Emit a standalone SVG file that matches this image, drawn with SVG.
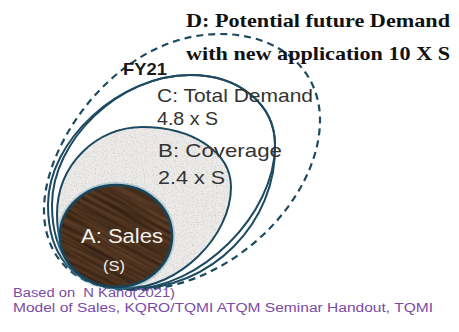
<svg xmlns="http://www.w3.org/2000/svg" width="459" height="332" viewBox="0 0 459 332">
  <style>
    .ring { fill: none; stroke: #1d4a60; stroke-width: 2; }
    .dash { fill: none; stroke: #1d4a60; stroke-width: 2.2; stroke-dasharray: 7 5; }
    .head { font-family: "Liberation Serif", "Times New Roman", serif; font-weight: bold; font-size: 19px; fill: #111; }
    .lbl { font-family: "Liberation Sans", Arial, sans-serif; font-size: 19px; fill: #333; }
    .fy { font-family: "Liberation Sans", Arial, sans-serif; font-weight: bold; font-size: 17px; fill: #1a1a1a; }
    .inner { font-family: "Liberation Sans", Arial, sans-serif; fill: #f3efe9; }
    .note { font-family: "Liberation Sans", Arial, sans-serif; font-size: 12px; fill: #7b4aa6; }
  </style>
  <defs>
    <!-- light grey granite texture for the coverage area -->
    <filter id="speckle" x="0" y="0" width="1" height="1" color-interpolation-filters="sRGB">
      <feTurbulence type="fractalNoise" baseFrequency="0.9" numOctaves="2" seed="4" result="n"/>
      <feColorMatrix in="n" type="matrix" values="0 0 0 0 0.76  0 0 0 0 0.76  0 0 0 0 0.75  2.0 0 0 0 -0.98" result="dots"/>
      <feComposite in="dots" in2="SourceGraphic" operator="atop"/>
    </filter>
    <!-- dark wood grain for the sales disc -->
    <filter id="wood" x="0" y="0" width="1" height="1" color-interpolation-filters="sRGB">
      <feTurbulence type="fractalNoise" baseFrequency="0.012 0.3" numOctaves="3" seed="7" result="g"/>
      <feColorMatrix in="g" type="matrix" values="0.3 0 0 0 0.14  0.22 0 0 0 0.08  0.15 0 0 0 0.04  0 0 0 0 1"/>
    </filter>
    <clipPath id="clipA">
      <ellipse cx="116" cy="236" rx="56" ry="51"/>
    </clipPath>
  </defs>

  <rect width="459" height="332" fill="#ffffff"/>

  <!-- D: potential future demand (dashed) -->
  <g id="node-D">
    <path class="dash" d="M134,290 C72,290 44,255 44,210 C44,140 120,34 220,34 C280,34 320,70 320,120 C320,200 230,290 134,290 Z"/>
  </g>

  <!-- FY21 outline -->
  <g id="node-FY21">
    <path class="ring" d="M130,289 C70,289 48,252 48,205 C48,140 120,75 190,75 C240,75 275,105 275,145 C277,222 212,290 130,289 Z"/>
  </g>

  <!-- C: total demand -->
  <g id="node-C">
    <path class="ring" d="M130,289 C74,289 52,252 52,205 C52,140 120,75 190,75 C240,75 275,105 275,145 C275,215 200,289 130,289 Z"/>
  </g>

  <!-- B: coverage -->
  <g id="node-B">
    <path d="M128,288 C80,288 57,255 57,215 C57,163 98,127 142,127 C192,127 231,152 231,187 C231,237 178,288 128,288 Z" fill="#ecebe9" filter="url(#speckle)"/>
    <path class="ring" d="M128,288 C80,288 57,255 57,215 C57,163 98,127 142,127 C192,127 231,152 231,187 C231,237 178,288 128,288 Z"/>
  </g>

  <!-- A: sales -->
  <g id="node-A">
    <g clip-path="url(#clipA)">
      <rect x="20" y="150" width="200" height="180" transform="rotate(28 116 236)" filter="url(#wood)"/>
    </g>
    <ellipse cx="116" cy="236" rx="57" ry="52" fill="none" stroke="#5a9ab8" stroke-width="4" opacity="0.35"/>
    <ellipse cx="116" cy="236" rx="56" ry="51" fill="none" stroke="#1b4358" stroke-width="2.6"/>
    <text class="inner" x="81" y="243" font-size="19.5" textLength="82" lengthAdjust="spacingAndGlyphs">A: Sales</text>
    <text class="inner" x="103" y="271" font-size="14" textLength="22" lengthAdjust="spacingAndGlyphs">(S)</text>
  </g>

  <!-- labels -->
  <g id="labels">
    <text class="head" x="186" y="27" textLength="264" lengthAdjust="spacingAndGlyphs">D: Potential future Demand</text>
    <text class="head" x="186" y="60" textLength="264" lengthAdjust="spacingAndGlyphs">with new application 10 X S</text>
    <text class="fy" x="123" y="75" textLength="44" lengthAdjust="spacingAndGlyphs">FY21</text>
    <text class="lbl" x="157" y="102" textLength="156" lengthAdjust="spacingAndGlyphs">C: Total Demand</text>
    <text class="lbl" x="157" y="125" textLength="61" lengthAdjust="spacingAndGlyphs">4.8 x S</text>
    <text class="lbl" x="158" y="157" textLength="124" lengthAdjust="spacingAndGlyphs">B: Coverage</text>
    <text class="lbl" x="158" y="184" textLength="67" lengthAdjust="spacingAndGlyphs">2.4 x S</text>
    <text class="note" x="13" y="297" textLength="162" lengthAdjust="spacingAndGlyphs" xml:space="preserve">Based on  N Kano(2021)</text>
    <text class="note" x="13" y="312" textLength="420" lengthAdjust="spacingAndGlyphs">Model of Sales, KQRO/TQMI ATQM Seminar Handout, TQMI</text>
  </g>
</svg>
